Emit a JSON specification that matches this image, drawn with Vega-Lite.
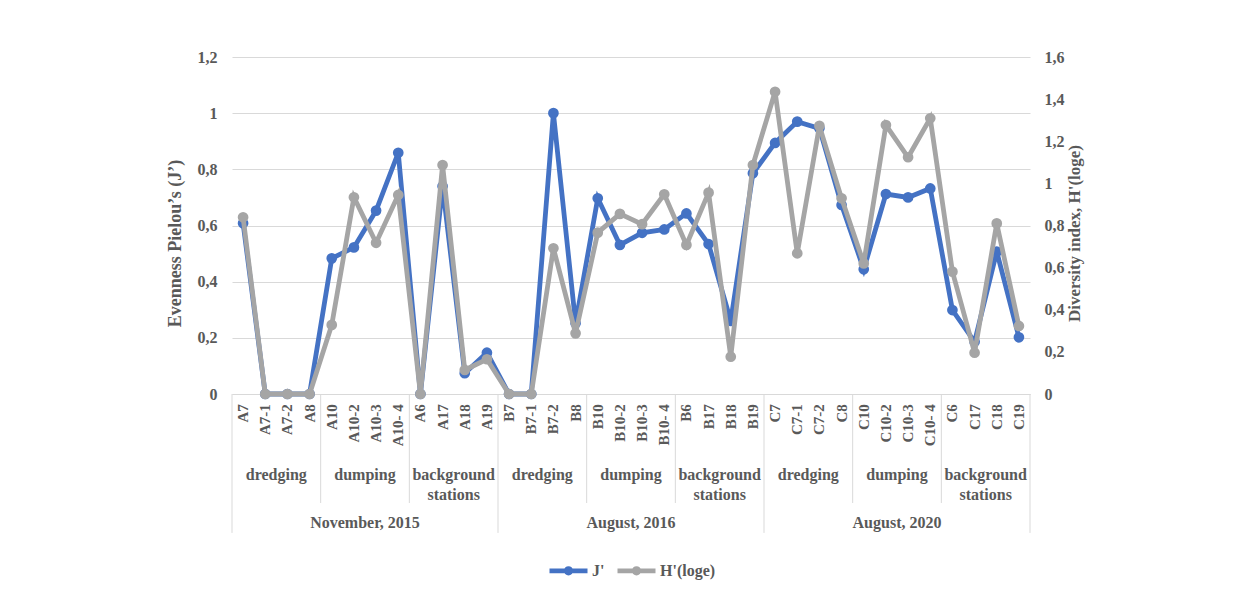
{
  "$schema": "https://vega.github.io/schema/vega-lite/v6.json",
  "padding": {"left": 166, "top": 49, "right": 5, "bottom": 5},
  "background": "white",
  "spacing": 0,
  "bounds": "flush",
  "resolve": {"scale": {"x": "independent"}},
  "config": {
    "font": "Liberation Serif",
    "view": {"stroke": null},
    "axis": {"labelFont": "Liberation Serif", "labelFontWeight": "bold", "labelColor": "#595959", "titleFont": "Liberation Serif", "titleFontWeight": "bold", "titleColor": "#595959"},
    "legend": {"labelFont": "Liberation Serif", "labelFontWeight": "bold", "labelColor": "#595959", "layout": {"bottom": {"anchor": "middle"}}}
  },
  "datasets": {
    "stations": [
      {"period": "November, 2015", "group": "dredging", "station": "A7", "J": 0.608, "H": 0.839},
      {"period": "November, 2015", "group": "dredging", "station": "A7-1", "J": 0, "H": 0},
      {"period": "November, 2015", "group": "dredging", "station": "A7-2", "J": 0, "H": 0},
      {"period": "November, 2015", "group": "dredging", "station": "A8", "J": 0, "H": 0},
      {"period": "November, 2015", "group": "dumping", "station": "A10", "J": 0.483, "H": 0.328},
      {"period": "November, 2015", "group": "dumping", "station": "A10-2", "J": 0.522, "H": 0.934},
      {"period": "November, 2015", "group": "dumping", "station": "A10-3", "J": 0.653, "H": 0.718},
      {"period": "November, 2015", "group": "dumping", "station": "A10- 4", "J": 0.859, "H": 0.945},
      {"period": "November, 2015", "group": "background stations", "station": "A6", "J": 0, "H": 0},
      {"period": "November, 2015", "group": "background stations", "station": "A17", "J": 0.74, "H": 1.087},
      {"period": "November, 2015", "group": "background stations", "station": "A18", "J": 0.074, "H": 0.114},
      {"period": "November, 2015", "group": "background stations", "station": "A19", "J": 0.147, "H": 0.165},
      {"period": "August, 2016", "group": "dredging", "station": "B7", "J": 0, "H": 0},
      {"period": "August, 2016", "group": "dredging", "station": "B7-1", "J": 0, "H": 0},
      {"period": "August, 2016", "group": "dredging", "station": "B7-2", "J": 1.0, "H": 0.692},
      {"period": "August, 2016", "group": "dredging", "station": "B8", "J": 0.252, "H": 0.288},
      {"period": "August, 2016", "group": "dumping", "station": "B10", "J": 0.697, "H": 0.766},
      {"period": "August, 2016", "group": "dumping", "station": "B10-2", "J": 0.531, "H": 0.855},
      {"period": "August, 2016", "group": "dumping", "station": "B10-3", "J": 0.574, "H": 0.806},
      {"period": "August, 2016", "group": "dumping", "station": "B10- 4", "J": 0.586, "H": 0.948},
      {"period": "August, 2016", "group": "background stations", "station": "B6", "J": 0.643, "H": 0.708},
      {"period": "August, 2016", "group": "background stations", "station": "B17", "J": 0.534, "H": 0.956},
      {"period": "August, 2016", "group": "background stations", "station": "B18", "J": 0.26, "H": 0.177},
      {"period": "August, 2016", "group": "background stations", "station": "B19", "J": 0.786, "H": 1.087},
      {"period": "August, 2020", "group": "dredging", "station": "C7", "J": 0.894, "H": 1.435},
      {"period": "August, 2020", "group": "dredging", "station": "C7-1", "J": 0.97, "H": 0.668},
      {"period": "August, 2020", "group": "dredging", "station": "C7-2", "J": 0.946, "H": 1.273},
      {"period": "August, 2020", "group": "dredging", "station": "C8", "J": 0.673, "H": 0.929},
      {"period": "August, 2020", "group": "dumping", "station": "C10", "J": 0.444, "H": 0.62},
      {"period": "August, 2020", "group": "dumping", "station": "C10-2", "J": 0.712, "H": 1.277},
      {"period": "August, 2020", "group": "dumping", "station": "C10-3", "J": 0.7, "H": 1.124},
      {"period": "August, 2020", "group": "dumping", "station": "C10- 4", "J": 0.732, "H": 1.309},
      {"period": "August, 2020", "group": "background stations", "station": "C6", "J": 0.299, "H": 0.581},
      {"period": "August, 2020", "group": "background stations", "station": "C17", "J": 0.186, "H": 0.196},
      {"period": "August, 2020", "group": "background stations", "station": "C18", "J": 0.507, "H": 0.81},
      {"period": "August, 2020", "group": "background stations", "station": "C19", "J": 0.202, "H": 0.323}
    ],
    "groups": [
      {"period": "November, 2015", "group": "dredging", "label": "dredging", "first": "A7", "mid": "A7-1"},
      {"period": "November, 2015", "group": "dumping", "label": "dumping", "first": "A10", "mid": "A10-2"},
      {"period": "November, 2015", "group": "background stations", "label": "background\nstations", "first": "A6", "mid": "A17"},
      {"period": "August, 2016", "group": "dredging", "label": "dredging", "first": "B7", "mid": "B7-1"},
      {"period": "August, 2016", "group": "dumping", "label": "dumping", "first": "B10", "mid": "B10-2"},
      {"period": "August, 2016", "group": "background stations", "label": "background\nstations", "first": "B6", "mid": "B17"},
      {"period": "August, 2020", "group": "dredging", "label": "dredging", "first": "C7", "mid": "C7-1"},
      {"period": "August, 2020", "group": "dumping", "label": "dumping", "first": "C10", "mid": "C10-2"},
      {"period": "August, 2020", "group": "background stations", "label": "background\nstations", "first": "C6", "mid": "C17"}
    ],
    "periods": [
      {"period": "November, 2015", "first": "A7", "mid": "A10-2"},
      {"period": "August, 2016", "first": "B7", "mid": "B10-2"},
      {"period": "August, 2020", "first": "C7", "mid": "C10-2"}
    ]
  },
  "vconcat": [
    {
      "width": 798,
      "height": 337,
      "data": {"name": "stations"},
      "encoding": {
        "x": {
          "field": "station", "type": "nominal", "bandPosition": 0.5, "sort": null,
          "scale": {"type": "band", "paddingInner": 0, "paddingOuter": 0, "domain": ["A7","A7-1","A7-2","A8","A10","A10-2","A10-3","A10- 4","A6","A17","A18","A19","B7","B7-1","B7-2","B8","B10","B10-2","B10-3","B10- 4","B6","B17","B18","B19","C7","C7-1","C7-2","C8","C10","C10-2","C10-3","C10- 4","C6","C17","C18","C19"]},
          "axis": {"labels": false, "ticks": false, "tickSize": 0, "labelPadding": 0, "minExtent": 0, "domain": true, "domainColor": "#d9d9d9", "domainWidth": 1, "grid": false, "title": null}
        }
      },
      "layer": [
        {
          "mark": {"type": "line", "strokeWidth": 4.8, "point": {"filled": true, "size": 115}},
          "encoding": {
            "y": {
              "field": "J", "type": "quantitative",
              "scale": {"domain": [0, 1.2], "nice": false, "zero": true},
              "axis": {"orient": "left", "values": [0, 0.2, 0.4, 0.6, 0.8, 1, 1.2], "labelExpr": "replace(format(datum.value, '.1~f'), '.', ',')", "grid": true, "gridColor": "#d9d9d9", "gridWidth": 1, "domain": false, "ticks": false, "tickSize": 0, "labelPadding": 15, "labelFontSize": 16, "title": "Evenness Pielou’s (J’)", "titleFontSize": 18, "titlePadding": 13, "titleY": 186}
            },
            "color": {
              "datum": "J'",
              "scale": {"domain": ["J'", "H'(loge)"], "range": ["#4472C4", "#A5A5A5"]},
              "legend": {"orient": "bottom", "direction": "horizontal", "title": null, "labelFontSize": 16, "symbolType": "M-1,0L1,0M0.12,0A0.12,0.12,0,1,1,-0.12,0A0.12,0.12,0,1,1,0.12,0", "symbolSize": 1444, "symbolStrokeWidth": 4.8, "columnPadding": 2, "labelOffset": 2, "offset": 15}
            }
          }
        },
        {
          "mark": {"type": "line", "strokeWidth": 4.8, "point": {"filled": true, "size": 115}},
          "encoding": {
            "y": {
              "field": "H", "type": "quantitative",
              "scale": {"domain": [0, 1.6], "nice": false, "zero": true},
              "axis": {"orient": "right", "values": [0, 0.2, 0.4, 0.6, 0.8, 1, 1.2, 1.4, 1.6], "labelExpr": "replace(format(datum.value, '.1~f'), '.', ',')", "grid": false, "domain": false, "ticks": false, "tickSize": 0, "labelPadding": 14, "labelFontSize": 16, "title": "Diversity index, H'(loge)", "titleFontSize": 17, "titleAngle": 270, "titlePadding": 19, "titleY": 176}
            },
            "color": {"datum": "H'(loge)"}
          }
        }
      ],
      "resolve": {"scale": {"y": "independent"}}
    },
    {
      "width": 798,
      "height": 140,
      "encoding": {
        "x": {"type": "nominal", "sort": null, "scale": {"type": "band", "paddingInner": 0, "paddingOuter": 0, "domain": ["A7","A7-1","A7-2","A8","A10","A10-2","A10-3","A10- 4","A6","A17","A18","A19","B7","B7-1","B7-2","B8","B10","B10-2","B10-3","B10- 4","B6","B17","B18","B19","C7","C7-1","C7-2","C8","C10","C10-2","C10-3","C10- 4","C6","C17","C18","C19"]}, "axis": null}
      },
      "layer": [
        {
          "data": {"name": "stations"},
          "mark": {"type": "text", "angle": 270, "align": "right", "baseline": "middle", "fontSize": 15, "fontWeight": "bold", "color": "#595959", "font": "Liberation Serif"},
          "encoding": {
            "x": {"field": "station", "type": "nominal", "sort": null, "bandPosition": 0.5, "axis": null},
            "y": {"datum": "station", "type": "nominal", "bandPosition": 0.22, "scale": {"type": "band", "domain": ["station", "group", "period"], "paddingInner": 0, "paddingOuter": 0}, "axis": null},
            "text": {"field": "station"}
          }
        },
        {
          "data": {"name": "groups"},
          "mark": {"type": "text", "align": "center", "baseline": "top", "lineBreak": "\n", "lineHeight": 20, "fontSize": 16, "fontWeight": "bold", "color": "#595959", "font": "Liberation Serif"},
          "encoding": {
            "x": {"field": "mid", "type": "nominal", "sort": null, "bandPosition": 1, "axis": null},
            "y": {"datum": "group", "type": "nominal", "bandPosition": 0.57, "axis": null},
            "text": {"field": "label"}
          }
        },
        {
          "data": {"name": "periods"},
          "mark": {"type": "text", "align": "center", "baseline": "middle", "fontSize": 16, "fontWeight": "bold", "color": "#595959", "font": "Liberation Serif"},
          "encoding": {
            "x": {"field": "mid", "type": "nominal", "sort": null, "bandPosition": 1, "axis": null},
            "y": {"datum": "period", "type": "nominal", "bandPosition": 0.76, "axis": null},
            "text": {"field": "period"}
          }
        },
        {
          "data": {"name": "groups"},
          "transform": [{"filter": "datum.group !== 'dredging'"}],
          "mark": {"type": "rule", "color": "#d9d9d9", "strokeWidth": 1},
          "encoding": {
            "x": {"field": "first", "type": "nominal", "sort": null, "bandPosition": 0, "axis": null},
            "y": {"datum": "station", "type": "nominal", "bandPosition": 0, "axis": null},
            "y2": {"datum": "period", "bandPosition": 0.336}
          }
        },
        {
          "data": {"name": "periods"},
          "mark": {"type": "rule", "color": "#d9d9d9", "strokeWidth": 1},
          "encoding": {
            "x": {"field": "first", "type": "nominal", "sort": null, "bandPosition": 0, "axis": null},
            "y": {"datum": "station", "type": "nominal", "bandPosition": 0, "axis": null},
            "y2": {"datum": "period", "bandPosition": 0.976}
          }
        },
        {
          "data": {"name": "stations"},
          "transform": [{"filter": "datum.station === 'C19'"}],
          "mark": {"type": "rule", "color": "#d9d9d9", "strokeWidth": 1},
          "encoding": {
            "x": {"field": "station", "type": "nominal", "sort": null, "bandPosition": 1, "axis": null},
            "y": {"datum": "station", "type": "nominal", "bandPosition": 0, "axis": null},
            "y2": {"datum": "period", "bandPosition": 0.976}
          }
        }
      ]
    }
  ]
}
